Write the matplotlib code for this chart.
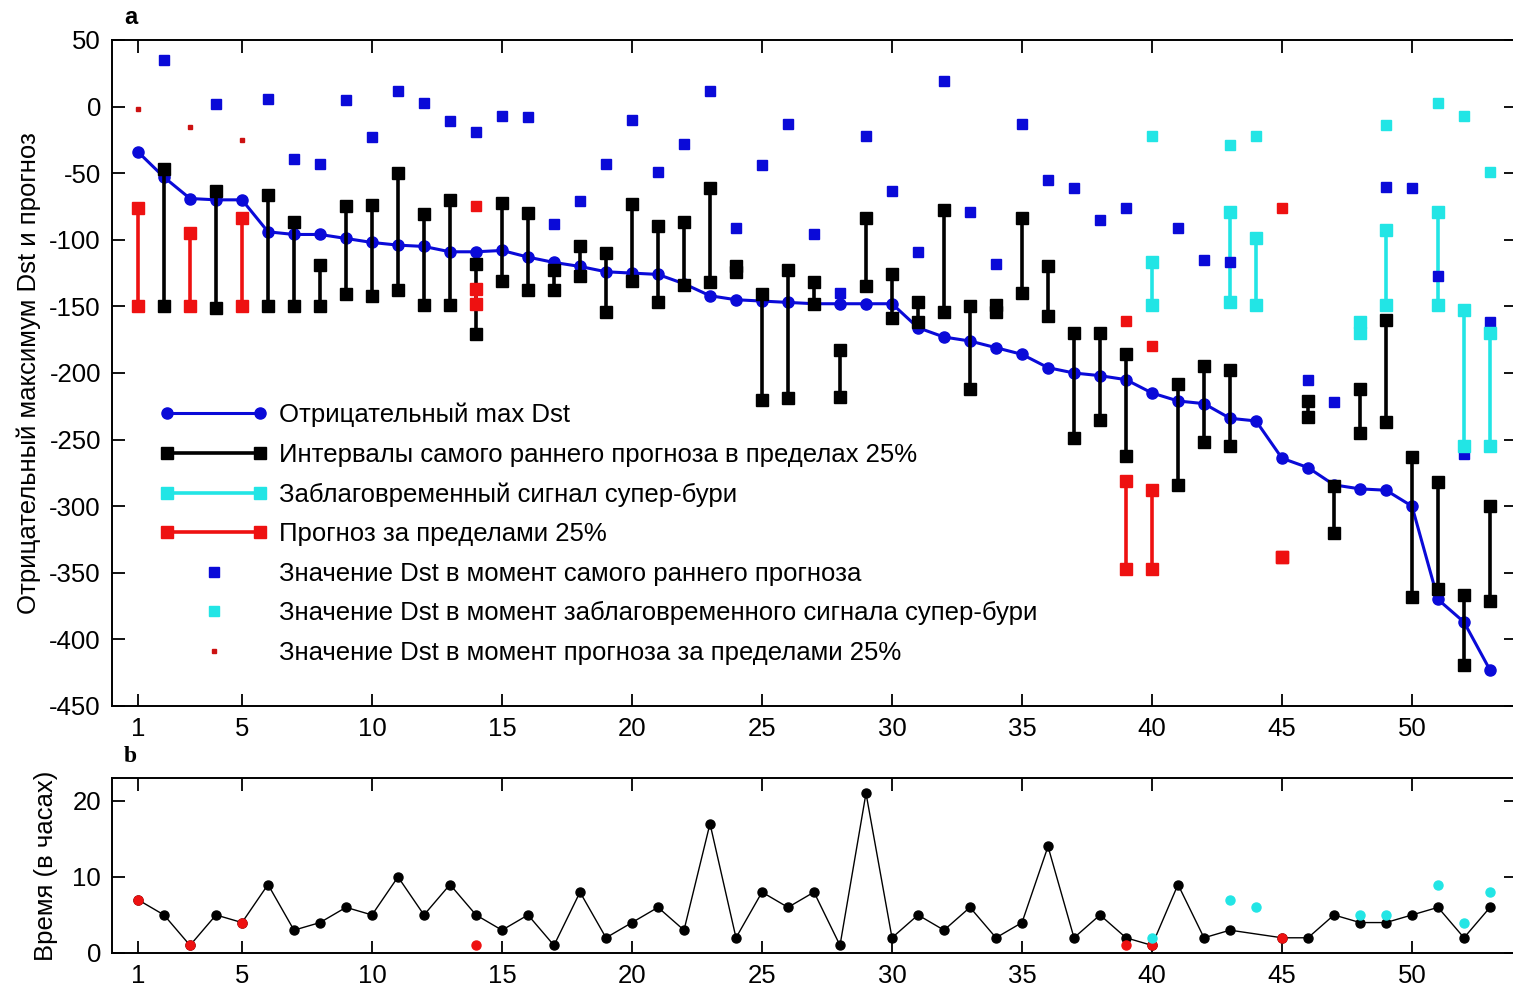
import numpy as np
import matplotlib.pyplot as plt
from matplotlib.lines import Line2D
from matplotlib.legend_handler import HandlerLine2D

plt.rcParams['font.family'] = ['Liberation Sans', 'DejaVu Sans']
plt.rcParams['axes.unicode_minus'] = False

# ---- panel a: negative max Dst per storm ----
storm = np.arange(1, 54)
max_dst = [-34, -53, -69, -70, -70, -94, -96, -96, -99, -102, -104, -105, -109, -109,
           -108, -113, -117, -120, -124, -125, -126, -133, -142, -145, -146, -147, -148,
           -148, -148, -148, -166, -173, -176, -181, -186, -196, -200, -202, -205, -215,
           -221, -223, -234, -236, -264, -271, -284, -287, -288, -300, -370, -387, -423]

# earliest forecast intervals within 25% (black)
blk_x = [2, 4, 6, 7, 8, 9, 10, 11, 12, 13, 14, 15, 16, 17, 18, 19, 20, 21, 22, 23, 24,
         25, 26, 27, 28, 29, 30, 31, 32, 33, 34, 35, 36, 37, 38, 39, 41, 42, 43, 46, 47,
         48, 49, 50, 51, 52, 53]
blk_top = [-47, -63, -66, -87, -119, -75, -74, -50, -81, -70, -118, -72, -80, -123, -105,
           -110, -73, -90, -87, -61, -120, -141, -123, -132, -183, -84, -126, -147, -78,
           -150, -149, -84, -120, -170, -170, -186, -208, -195, -198, -221, -285, -212,
           -160, -263, -282, -367, -300]
blk_bot = [-150, -151, -150, -150, -150, -141, -142, -138, -149, -149, -171, -131, -138,
           -138, -127, -154, -131, -147, -134, -132, -124, -220, -219, -148, -218, -135,
           -159, -162, -154, -212, -154, -140, -157, -249, -235, -262, -284, -252, -255,
           -233, -320, -245, -237, -368, -362, -419, -371]

# super-storm early signal intervals (cyan)
cyn_x = [40, 43, 44, 48, 49, 51, 52, 53]
cyn_top = [-117, -79, -99, -162, -93, -79, -153, -170]
cyn_bot = [-149, -147, -149, -170, -149, -149, -255, -255]

# forecasts outside 25% (red)
red_x = [1, 3, 5, 14, 39, 40, 45]
red_top = [-76, -95, -84, -137, -281, -288, -338]
red_bot = [-150, -150, -150, -148, -347, -347, -338]

# Dst at the moment of earliest forecast
bv_x = [2, 4, 6, 7, 8, 9, 10, 11, 12, 13, 14, 15, 16, 17, 18, 19, 20, 21, 22, 23, 24, 25,
        26, 27, 28, 29, 30, 31, 32, 33, 34, 35, 36, 37, 38, 39, 41, 42, 43, 46, 47, 48,
        49, 50, 51, 52, 53]
bv_y = [35, 2, 6, -39, -43, 5, -23, 12, 3, -11, -19, -7, -8, -88, -71, -43, -10, -49, -28,
        12, -91, -44, -13, -96, -140, -22, -63, -109, 19, -79, -118, -13, -55, -61, -85,
        -76, -91, -115, -117, -205, -222, -166, -60, -61, -127, -261, -162]
cv_x = [40, 43, 44, 49, 51, 52, 53]
cv_y = [-22, -29, -22, -14, 3, -7, -49]
rv_small_x = [1, 3, 5]
rv_small_y = [-2, -15, -25]
rv_x = [14, 39, 40, 45]
rv_y = [-75, -161, -180, -76]

# ---- panel b: lead time in hours ----
t_x = [i for i in range(1, 54) if i != 44]
t_black = [7, 5, 1, 5, 4, 9, 3, 4, 6, 5, 10, 5, 9, 5, 3, 5, 1, 8, 2, 4, 6, 3, 17, 2, 8, 6,
           8, 1, 21, 2, 5, 3, 6, 2, 4, 14, 2, 5, 2, 1, 9, 2, 3, 2, 2, 5, 4, 4, 5, 6, 2, 6]
t_red_x = [1, 3, 5, 14, 39, 40, 45]
t_red = [7, 1, 4, 1, 1, 1, 2]
t_cyan_x = [40, 43, 44, 48, 49, 51, 52, 53]
t_cyan = [2, 7, 6, 5, 5, 9, 4, 8]

BLUE = '#0a0ad8'
CYAN = '#22e5e5'
RED = '#ee1111'
FS = 18.5

W, H = 1513, 986
fig = plt.figure(figsize=(W / 100, H / 100), dpi=100)
ax1 = fig.add_axes([112 / W, 1 - 706 / H, (1516 - 112) / W, (706 - 40) / H])
ax2 = fig.add_axes([112 / W, 1 - 953 / H, (1516 - 112) / W, (953 - 778) / H])

ax1.plot(storm, max_dst, '-o', color=BLUE, lw=2.2, ms=8, zorder=3)

for x, t, b in zip(blk_x, blk_top, blk_bot):
    ax1.plot([x, x], [t, b], '-s', color='black', lw=2.6, ms=8.5, zorder=4)
for x, t, b in zip(cyn_x, cyn_top, cyn_bot):
    ax1.plot([x, x], [t, b], '-', color=CYAN, lw=2.6, zorder=2)
    ax1.plot([x, x], [t, b], 's', color=CYAN, ms=8.5, zorder=6)
for x, t, b in zip(red_x, red_top, red_bot):
    ax1.plot([x, x], [t, b], '-s', color=RED, lw=2.6, ms=8.5, zorder=4)

ax1.plot(bv_x, bv_y, 's', color=BLUE, ms=6.5, zorder=5)
ax1.plot(cv_x, cv_y, 's', color=CYAN, ms=6.5, zorder=5)
ax1.plot(rv_x, rv_y, 's', color=RED, ms=6.5, zorder=5)
ax1.plot(rv_small_x, rv_small_y, 's', color='#cc1111', ms=3.5, zorder=5)

ax1.set_xlim(0, 54)
ax1.set_ylim(-450, 50)
ax1.set_yticks(np.arange(-450, 51, 50))
ax1.set_ylabel('Отрицательный максимум Dst и прогноз', fontsize=FS, labelpad=6)

# legend
h = [Line2D([], [], color=BLUE, lw=2.2, marker='o', ms=8),
     Line2D([], [], color='black', lw=2.6, marker='s', ms=8.5),
     Line2D([], [], color=CYAN, lw=2.6, marker='s', ms=8.5),
     Line2D([], [], color=RED, lw=2.6, marker='s', ms=8.5),
     Line2D([], [], color=BLUE, ls='none', marker='s', ms=6.5),
     Line2D([], [], color=CYAN, ls='none', marker='s', ms=6.5),
     Line2D([], [], color='#cc1111', ls='none', marker='s', ms=3.5)]
labels = ['Отрицательный max Dst',
          'Интервалы самого раннего прогноза в пределах 25%',
          'Заблаговременный сигнал супер-бури',
          'Прогноз за пределами 25%',
          'Значение Dst в момент самого раннего прогноза',
          'Значение Dst в момент заблаговременного сигнала супер-бури',
          'Значение Dst в момент прогноза за пределами 25%']
single = HandlerLine2D(numpoints=1)
ax1.legend(h, labels, loc='upper left', bbox_to_anchor=(0.034, 0.455), frameon=False,
           numpoints=2, fontsize=FS, handlelength=4.2, handletextpad=0.45,
           labelspacing=0.6, borderpad=0, borderaxespad=0,
           handler_map={h[4]: single, h[5]: single, h[6]: single})

ax2.plot(t_x, t_black, '-o', color='black', lw=1.0, ms=6.5, zorder=3)
ax2.plot(t_red_x, t_red, 'o', color=RED, ms=6.5, zorder=4)
ax2.plot(t_cyan_x, t_cyan, 'o', color=CYAN, ms=6.5, zorder=4)
ax2.set_xlim(0, 54)
ax2.set_ylim(0, 23)
ax2.set_yticks([0, 10, 20])
ax2.set_ylabel('Время (в часах)', fontsize=FS, labelpad=10)

for ax in (ax1, ax2):
    ax.set_xticks([1, 5, 10, 15, 20, 25, 30, 35, 40, 45, 50])
    ax.tick_params(direction='in', length=9, width=1.3, top=True, right=True,
                   labelsize=FS, pad=8)
    for s in ax.spines.values():
        s.set_linewidth(1.4)

fig.text(124 / W, 1 - 18 / H, 'a', fontsize=17, fontweight='bold', va='center')
fig.text(124 / W, 1 - 757 / H, 'b', fontsize=17, fontweight='bold', va='center',
         family='Liberation Serif')

fig.savefig('out.png', dpi=100)
